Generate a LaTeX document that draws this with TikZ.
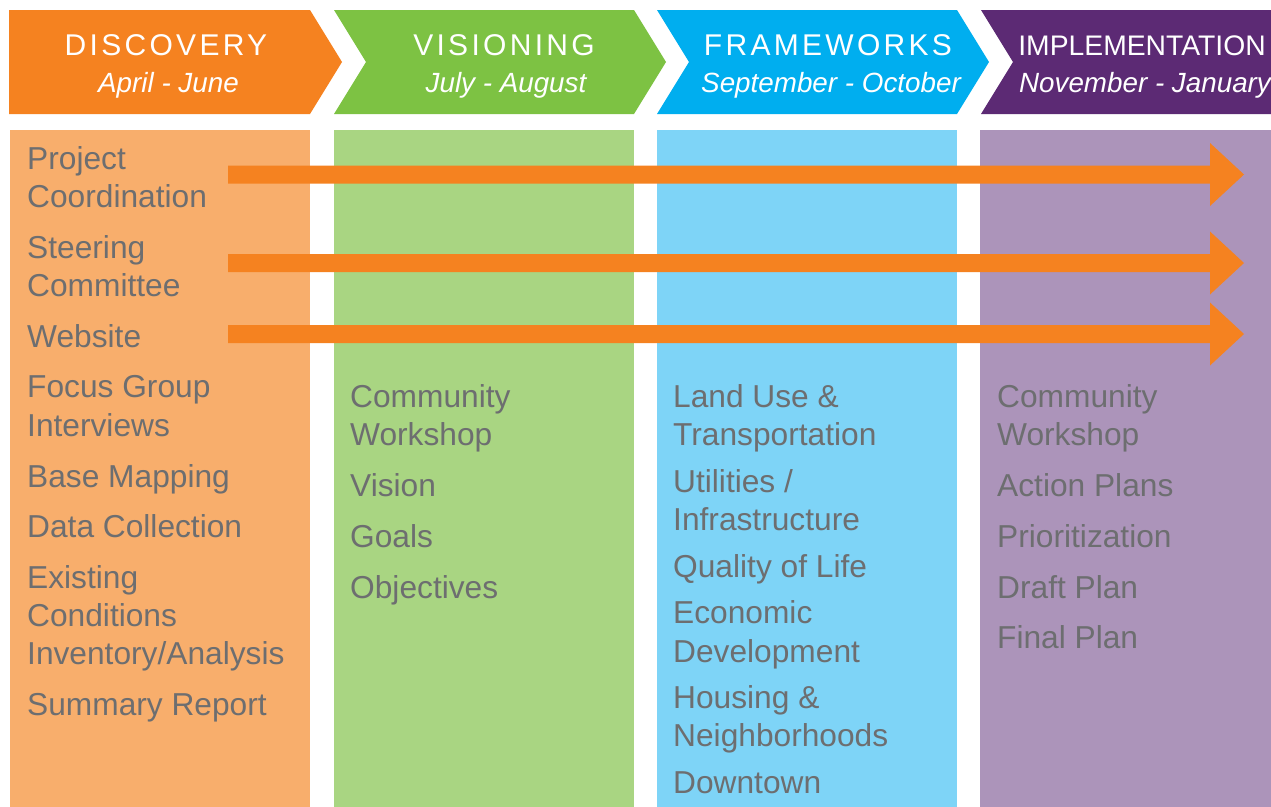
\documentclass[tikz,border=0pt]{standalone}
\usepackage{fontspec}
\setmainfont{Liberation Sans}
\newfontfamily\titlefont[LetterSpace=11]{Liberation Sans}
\usetikzlibrary{calc}
\definecolor{orH}{HTML}{F58220}
\definecolor{orB}{HTML}{F8AE6C}
\definecolor{grH}{HTML}{7DC243}
\definecolor{grB}{HTML}{A9D582}
\definecolor{blH}{HTML}{00AEEF}
\definecolor{blB}{HTML}{7ED4F7}
\definecolor{puH}{HTML}{5C2A74}
\definecolor{puB}{HTML}{AC94BA}
\definecolor{txt}{HTML}{6D6E70}
\definecolor{arr}{HTML}{F58220}
\begin{document}
\begin{tikzpicture}[x=1pt,y=-1pt,
  bodytxt/.style={anchor=base west,inner sep=0pt,text=txt,font=\fontsize{31.7}{38}\selectfont},
  ttl/.style={anchor=base,inner sep=0pt,text=white,font=\titlefont\fontsize{30}{36}\selectfont},
  ttlb/.style={anchor=base,inner sep=0pt,text=white,font=\fontsize{28.3}{34}\selectfont},
  sub/.style={anchor=base,inner sep=0pt,text=white,font=\itshape\fontsize{27.8}{33}\selectfont},
  arrowshape/.style={fill=arr}]
\useasboundingbox (0,0) rectangle (1271,806);
\fill[white] (0,0) rectangle (1271,806);
% header chevrons
\fill[orH] (9,10) -- (310,10) -- (342,62) -- (310,114) -- (9,114) -- cycle;
\fill[grH] (334,10) -- (634,10) -- (666,62) -- (634,114) -- (334,114) -- (366,62) -- cycle;
\fill[blH] (657,10) -- (957,10) -- (989,62) -- (957,114) -- (657,114) -- (689,62) -- cycle;
\fill[puH] (981,10) -- (1290,10) -- (1290,114) -- (981,114) -- (1013,62) -- cycle;
% body columns
\fill[orB] (10,130) rectangle (310,810);
\fill[grB] (334,130) rectangle (634,810);
\fill[blB] (657,130) rectangle (957,810);
\fill[puB] (980,130) rectangle (1290,810);
% header texts
\node[ttl] (t1) at (166,55) {DISCOVERY};
\node[sub] (s1) at (168.5,92) {April - June};
\node[ttl] (t2) at (504,55) {VISIONING};
\node[sub] (s2) at (506,92) {July - August};
\node[ttl] (t3) at (828,55) {FRAMEWORKS};
\node[sub] (s3) at (831,92) {September - October};
\node[ttlb] (t4) at (1142,55) {IMPLEMENTATION};
\node[sub] (s4) at (1145,92) {November - January};
% arrows
\foreach \yy [count=\i] in {174.5,263,334}{
  \coordinate (as\i) at (228,\yy);
  \coordinate (ae\i) at (1244,\yy);
  \fill[arrowshape] ($(as\i)+(0,-9)$) -- ($(ae\i)+(-34,-9)$) -- ($(ae\i)+(-34,-31.5)$) -- (ae\i)
     -- ($(ae\i)+(-34,31.5)$) -- ($(ae\i)+(-34,9)$) -- ($(as\i)+(0,9)$) -- cycle;
}
% discovery items
\foreach \t/\yy [count=\i] in {Project/169,Coordination/207,Steering/258,Committee/296,Website/347,
  Focus Group/397,Interviews/436,Base Mapping/487,Data Collection/537,Existing/588,Conditions/626,
  {Inventory/Analysis}/664,Summary Report/715}{
  \node[bodytxt] (o\i) at (27,\yy) {\t};
}
% visioning items
\foreach \t/\yy [count=\i] in {Community/407,Workshop/445,Vision/496,Goals/547,Objectives/598}{
  \node[bodytxt] (g\i) at (350,\yy) {\t};
}
% frameworks items
\foreach \t/\yy [count=\i] in {Land Use \&/407,Transportation/445,{Utilities /}/492,Infrastructure/530,
  Quality of Life/577,Economic/623,Development/662,Housing \&/708,Neighborhoods/746,Downtown/793}{
  \node[bodytxt] (b\i) at (673,\yy) {\t};
}
% implementation items
\foreach \t/\yy [count=\i] in {Community/407,Workshop/445,Action Plans/496,Prioritization/547,
  Draft Plan/598,Final Plan/648}{
  \node[bodytxt] (p\i) at (997,\yy) {\t};
}
\end{tikzpicture}
\end{document}
